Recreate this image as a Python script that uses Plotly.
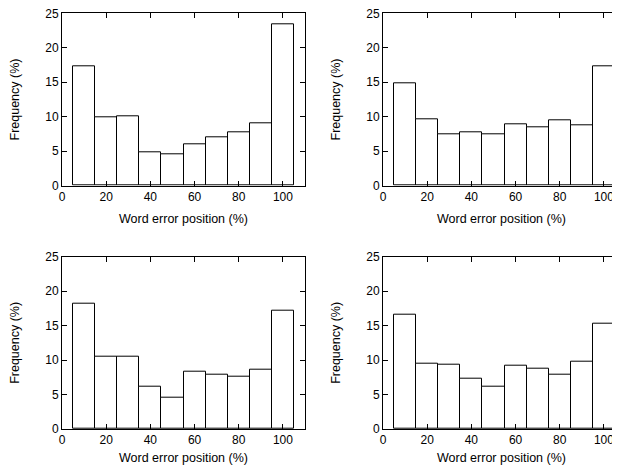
import plotly.graph_objects as go
from plotly.subplots import make_subplots

positions = [10, 20, 30, 40, 50, 60, 70, 80, 90, 100]
freq_top_left = [17.3, 9.9, 10.1, 4.9, 4.55, 6.0, 7.0, 7.8, 9.1, 23.45]
freq_top_right = [14.9, 9.6, 7.5, 7.7, 7.5, 8.9, 8.5, 9.45, 8.75, 17.3]
freq_bottom_left = [18.2, 10.5, 10.5, 6.15, 4.6, 8.3, 7.9, 7.65, 8.65, 17.2]
freq_bottom_right = [16.6, 9.5, 9.3, 7.3, 6.1, 9.2, 8.7, 7.9, 9.75, 15.3]
x_ticks = [0, 20, 40, 60, 80, 100]
y_ticks = [0, 5, 10, 15, 20, 25]
x_title = "Word error position (%)"
y_title = "Frequency (%)"

panels = [(1, 1, freq_top_left), (1, 2, freq_top_right),
          (2, 1, freq_bottom_left), (2, 2, freq_bottom_right)]

W, H = 612, 457   # page has an 8px body margin
OFF = 8

fig = make_subplots(rows=2, cols=2)
for r, c, vals in panels:
    fig.add_trace(go.Bar(x=positions, y=vals, width=10,
                         marker=dict(color="white", line=dict(color="black", width=1)),
                         showlegend=False), row=r, col=c)

tick_font = dict(family="Liberation Sans, Arial, sans-serif", size=12, color="black")
title_font = dict(family="Liberation Sans, Arial, sans-serif", size=12.5, color="black")


def fx(px):
    return (px - OFF) / W


def fy(px):
    return 1 - (px - OFF) / H


xdom = {1: [fx(62), fx(305)], 2: [fx(383), 1.0]}
ydom = {1: [fy(185.7), fy(13.3)], 2: [fy(429), fy(256.7)]}
right_max = 110 * (620 - 383) / (305 - 62)

for r, c, vals in panels:
    right = c == 2
    fig.update_xaxes(row=r, col=c, domain=xdom[c],
                     range=[0, right_max] if right else [0, 110],
                     tickvals=x_ticks, ticks="inside", ticklen=5, tickcolor="black",
                     showline=True, linecolor="black", linewidth=1, mirror="ticks",
                     showgrid=False, zeroline=False, tickfont=tick_font,
                     ticklabeloverflow="allow",
                     title=dict(text=x_title, font=title_font, standoff=11), automargin=False)
    fig.update_yaxes(row=r, col=c, domain=ydom[r], range=[0, 25],
                     tickvals=y_ticks, ticks="inside", ticklen=5, tickcolor="black",
                     showline=True, linecolor="black", linewidth=1,
                     mirror=False if right else "ticks",
                     showgrid=False, zeroline=False, tickfont=tick_font,
                     ticklabeloverflow="allow",
                     title=dict(text=y_title, font=title_font, standoff=22), automargin=False)

fig.update_layout(width=W, height=H, margin=dict(l=0, r=0, t=0, b=0),
                  paper_bgcolor="white", plot_bgcolor="white", bargap=0, font=tick_font)
fig.write_html("out.html")
